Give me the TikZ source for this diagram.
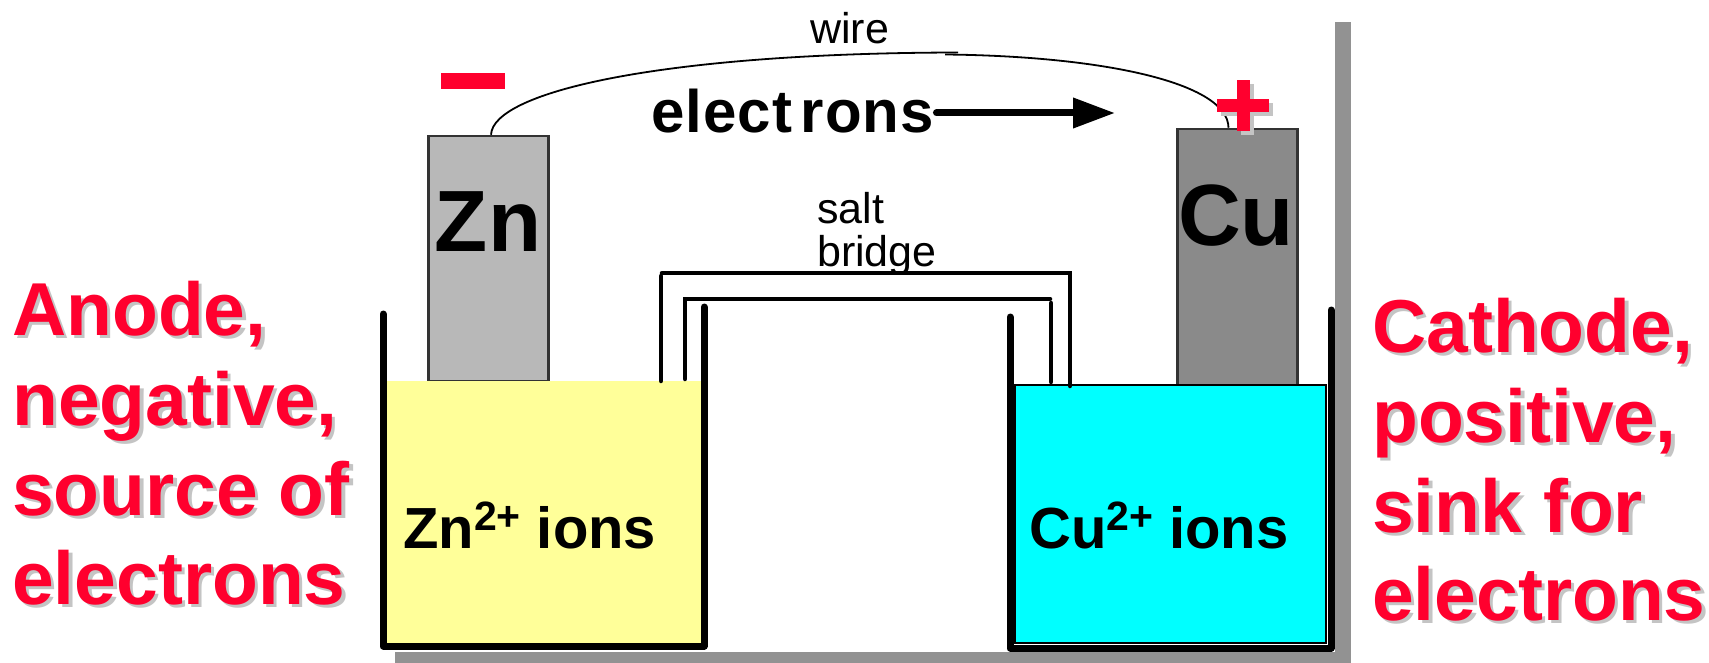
\documentclass[tikz,border=0pt]{standalone}
\usepackage{xcolor}
\usepackage{fontspec}
\usepackage{tikz}
\usetikzlibrary{arrows.meta}
\setmainfont{Liberation Sans}
\definecolor{labelred}{HTML}{FF002E}
\definecolor{frameGray}{HTML}{929292}
\definecolor{shadowGray}{HTML}{C4C4C4}
\definecolor{zincGray}{HTML}{B8B8B8}
\definecolor{copperGray}{HTML}{8A8A8A}
\definecolor{zincYellow}{HTML}{FFFF99}
\definecolor{copperCyan}{HTML}{00FFFF}
\newcommand{\shadowed}[1]{\rlap{\kern3.5pt\raisebox{-3.5pt}{\color{shadowGray}#1}}#1}
\newcommand{\charge}{\raisebox{18pt}{\fontsize{41}{41}\selectfont 2+}}
\tikzset{
    sidelabel/.style={anchor=base west, inner sep=0pt, text=labelred, font=\fontsize{75}{90}\selectfont\bfseries},
    plainlabel/.style={anchor=base west, inner sep=0pt, font=\fontsize{43}{43}\selectfont},
    ionlabel/.style={anchor=base west, inner sep=0pt, font=\fontsize{58}{58}\selectfont\bfseries},
    metallabel/.style={anchor=base, inner sep=0pt, font=\fontsize{87}{87}\selectfont\bfseries},
    electrode/.style={draw=black!80, line width=2.5pt, minimum width=120pt, inner sep=0pt},
    beaker/.style={line width=7pt, line cap=round, line join=round},
    tube/.style={line width=4.5pt, line cap=round},
}

\begin{document}
\begin{tikzpicture}[x=1pt, y=-1pt]
    \useasboundingbox (0,0) rectangle (1709,663);

    % Frame shadow
    \fill[frameGray] (1335,22) rectangle (1351,663);
    \fill[frameGray] (395,652) rectangle (1351,663);

    % Electrodes
    \node[electrode, fill=zincGray, minimum height=245pt] (zn) at (488.5,258.5) {};
    \node[electrode, fill=copperGray, minimum height=256pt] (cu) at (1237.5,257) {};
    \node[metallabel] (znlabel) at (488,252) {Zn};
    \node[metallabel] (culabel) at (1236,246) {Cu};

    % Left beaker
    \fill[zincYellow] (386,381) rectangle (701,643);
    \draw[beaker] (383,314) -- (383,646) -- (704,646) -- (704,307);
    \node[ionlabel] (znions) at (403,548) {Zn\charge{} ions};

    % Right beaker
    \draw[line width=2.5pt, fill=copperCyan] (1015,385) rectangle (1326,643);
    \draw[beaker] (1010,317) -- (1010,648) -- (1331,648) -- (1331,310);
    \node[ionlabel] (cuions) at (1029,548) {Cu\charge{} ions};

    % Salt bridge
    \draw[tube] (661,381) -- (661,276);
    \draw[tube] (662,273) -- (1070,273) -- (1070,386);
    \draw[tube] (685,379) -- (685,299) -- (1050,299);
    \draw[tube] (1051,303) -- (1051,382);
    \node[plainlabel] (salt) at (817,224) {salt};
    \node[plainlabel] (bridge) at (817,266) {bridge};

    % Wire
    \coordinate (wireleft) at (958,52.5);
    \coordinate (wireright) at (945,54.5);
    \draw[line width=1.8pt] ([xshift=2.5pt]zn.north) .. controls (493,92) and (660,53) .. (wireleft);
    \draw[line width=1.8pt] (wireright) .. controls (1100,56) and (1228,82) .. ([xshift=-9pt]cu.north);
    \node[plainlabel] (wire) at (810,44) {wire};

    % Electron flow
    \node[anchor=base west, inner sep=2.5pt, font=\fontsize{60}{60}\selectfont\bfseries] (electrons) at (649,133) {\addfontfeature{LetterSpace=1.5}elect\kern9pt rons};
    \coordinate (flowtip) at (1115,113);
    \draw[line width=7pt, line cap=round, -{Triangle[length=42pt, width=29pt]}] (electrons.east |- flowtip) -- (flowtip);

    % Polarity signs
    \fill[labelred] (441,73) rectangle (505,89);
    \fill[shadowGray] (1221,103) rectangle (1273,116);
    \fill[shadowGray] (1241,84) rectangle (1254,135);
    \fill[labelred] (1217,99) rectangle (1269,112);
    \fill[labelred] (1237,80) rectangle (1250,131);

    % Anode text
    \node[sidelabel] (anode) at (12,335) {\shadowed{Anode,}};
    \node[sidelabel] (negative) at (12,425) {\shadowed{negative,}};
    \node[sidelabel] (source) at (12,515) {\shadowed{source of}};
    \node[sidelabel] (anodeelectrons) at (12,604) {\shadowed{electrons}};

    % Cathode text
    \node[sidelabel] (cathode) at (1372,352) {\shadowed{Cathode,}};
    \node[sidelabel] (positive) at (1372,442) {\shadowed{positive,}};
    \node[sidelabel] (sink) at (1372,532) {\shadowed{sink for}};
    \node[sidelabel] (cathodeelectrons) at (1372,620) {\shadowed{electrons}};
\end{tikzpicture}
\end{document}
